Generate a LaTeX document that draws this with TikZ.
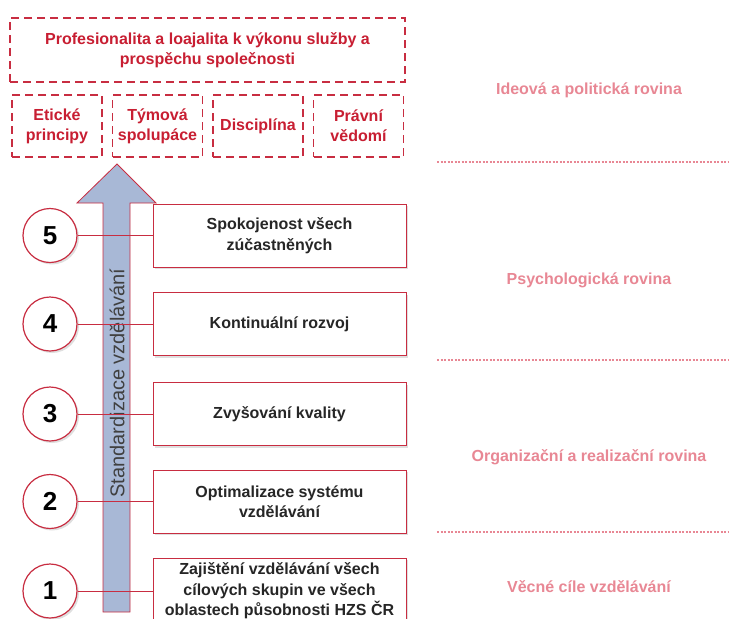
\documentclass[tikz,border=0pt]{standalone}
\usepackage{fontspec}
\setmainfont{Liberation Sans}
\usetikzlibrary{shadows}

\definecolor{boxred}{RGB}{200,45,65}
\definecolor{txtred}{RGB}{200,30,50}
\definecolor{palered}{RGB}{232,135,148}
\definecolor{arrowblue}{RGB}{168,184,214}

\begin{document}
\begin{tikzpicture}[x=1pt, y=-1pt,
    dashbox/.style={draw=boxred, line width=1.4pt, dash pattern=on 8pt off 5pt, fill=white,
      text=txtred, align=center, inner sep=0pt, font=\bfseries\fontsize{16}{20}\selectfont},
    stepbox/.style={draw=boxred, line width=1pt, fill=white, minimum width=253pt, minimum height=63pt,
      align=center, inner sep=0pt, text=black!85, font=\bfseries\fontsize{16}{20.5}\selectfont,
      drop shadow={opacity=0.25, shadow xshift=2pt, shadow yshift=-2pt}},
    numcirc/.style={circle, draw=boxred, line width=1.2pt, fill=white, minimum size=54pt, inner sep=0pt,
      font=\bfseries\fontsize{26}{26}\selectfont, drop shadow={opacity=0.25, shadow xshift=2pt, shadow yshift=-2pt}},
    level/.style={text=palered, font=\bfseries\fontsize{16}{20}\selectfont},
    sep/.style={palered, line width=2pt, dash pattern=on 2pt off 1.5pt},
    link/.style={boxred, line width=0.9pt}]

    \useasboundingbox (0,0) rectangle (729,619);
    \clip (0,0) rectangle (729,619);

    % 上の箱
    \node[dashbox, minimum width=395pt, minimum height=64pt] (goal) at (207.5,50) {Profesionalita a loajalita k výkonu služby a\\prospěchu společnosti};
    \node[dashbox, minimum width=90pt, minimum height=62pt] (eth) at (57,126) {Etické\\principy};
    \node[dashbox, minimum width=90pt, minimum height=62pt] (team) at (157.5,126) {Týmová\\spolupáce};
    \node[dashbox, minimum width=90pt, minimum height=62pt] (disc) at (258,126) {Disciplína};
    \node[dashbox, minimum width=90pt, minimum height=62pt] (law) at (358.5,126) {Právní\\vědomí};

    % 矢印
    \filldraw[fill=arrowblue, draw=boxred, line width=0.8pt]
      (103,612) -- (103,203) -- (77,203) -- (117,164) -- (156,203) -- (130,203) -- (130,612) -- cycle;
    \node[rotate=90, text=black!75, font=\fontsize{20}{22}\selectfont] (std) at (117,383) {Standardizace vzdělávání};

    % 箱と丸
    \node[stepbox] (b5) at (279.5,235.5) {Spokojenost všech\\zúčastněných};
    \node[stepbox] (b4) at (279.5,324) {Kontinuální rozvoj};
    \node[stepbox] (b3) at (279.5,414) {Zvyšování kvality};
    \node[stepbox] (b2) at (279.5,501.5) {Optimalizace systému\\vzdělávání};
    \node[stepbox, minimum height=66pt] (b1) at (279.5,591) {Zajištění vzdělávání všech\\cílových skupin ve všech\\oblastech působnosti HZS ČR};

    \node[numcirc] (n5) at (50,235.5) {5};
    \node[numcirc] (n4) at (50,324) {4};
    \node[numcirc] (n3) at (50,414) {3};
    \node[numcirc] (n2) at (50,501.5) {2};
    \node[numcirc] (n1) at (50,591) {1};

    % 線を引く
    \draw[link] (n5) -- (b5);
    \draw[link] (n4) -- (b4);
    \draw[link] (n3) -- (b3);
    \draw[link] (n2) -- (b2);
    \draw[link] (n1) -- (b1);

    % 右側
    \node[level] (l4) at (589,90) {Ideová a politická rovina};
    \node[level] (l3) at (589,280) {Psychologická rovina};
    \node[level] (l2) at (589,457) {Organizační a realizační rovina};
    \node[level] (l1) at (589,587) {Věcné cíle vzdělávání};

    \coordinate (s1a) at (437,162);
    \coordinate (s1b) at (729,162);
    \coordinate (s2a) at (437,360);
    \coordinate (s2b) at (729,360);
    \coordinate (s3a) at (437,532);
    \coordinate (s3b) at (729,532);
    \draw[sep] (s1a) -- (s1b);
    \draw[sep] (s2a) -- (s2b);
    \draw[sep] (s3a) -- (s3b);

\end{tikzpicture}
\end{document}
